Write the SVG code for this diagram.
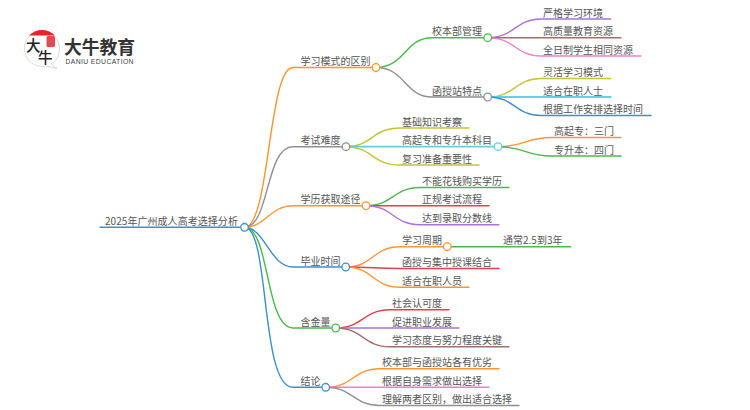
<svg xmlns="http://www.w3.org/2000/svg" width="750" height="410" viewBox="0 0 750 410">
<style>
text{font-family:"Noto Sans CJK SC","Noto Sans",sans-serif;font-size:10px;fill:#555}
#connectors path{fill:none;stroke-width:1.4;stroke-linecap:round}
.n{fill:#fff;stroke-width:1.3}
.or{stroke:#ff9431}.gy{stroke:#909090}.bl{stroke:#3e8fcc}.gn{stroke:#4cb84c}.pu{stroke:#a974d6}.br{stroke:#a0706a}.pk{stroke:#ec7fca}.ol{stroke:#c6c23a}.cy{stroke:#5cd3e4}.rd{stroke:#e0414c}
</style>
<rect width="750" height="410" fill="#fff"/>
<g id="logo">
<path d="M42 30.500a18 18 0 0 1 17.500 18c0 8-4.500 13.500-8.500 15.500l6 4.500-10.500-2.500a18 18 0 1 1-4.500-35.500z" fill="#fff" stroke="#cfcfcf" stroke-width=".8"/>
<path d="M29 35.500a18 18 0 0 1 26 0z" fill="#e8232a"/>
<rect x="46.500" y="36" width="8.500" height="11" rx="1.500" fill="#e04a50"/>
<text x="26" y="51" style="font-size:14.500px;font-weight:500;fill:#222">大</text>
<text x="38" y="63" style="font-size:14.500px;font-weight:500;fill:#222">牛</text>
<text x="64" y="54" style="font-size:17.800px;font-weight:700;fill:#333">大牛教育</text>
<text x="65.500" y="63.500" style="font-size:6.800px;font-weight:500;fill:#444;font-family:'Liberation Sans',sans-serif" textLength="68">DANIU EDUCATION</text>
</g>
<g id="connectors">
<path class="bl" d="M100 227.300H244.500"/>
<path class="or" d="M244.500 227.300C270 227.300 268 67.500 293 67.500H376"/>
<path class="gy" d="M244.500 227.300C270 227.300 265 146.700 293 146.700H346"/>
<path class="or" d="M244.500 227.300C265 227.300 270 205.700 293 205.700H366"/>
<path class="bl" d="M244.500 227.300C265 227.300 270 267 293 267H345.700"/>
<path class="gn" d="M244.500 227.300C270 227.300 265 328 293 328H335.700"/>
<path class="bl" d="M244.500 227.300C270 227.300 260 387.300 293 387.300H325.700"/>
<path class="gn" d="M376 67.500C405 67.500 405 37.700 432 37.700H487.700"/>
<path class="gy" d="M376 67.500C405 67.500 405 97 432 97H487.700"/>
<path class="pu" d="M487.700 37.700C515 37.700 515 19 541 19H610.700"/>
<path class="br" d="M487.700 37.700H621"/>
<path class="pk" d="M487.700 37.700C515 37.700 515 56 541 56H641"/>
<path class="ol" d="M487.700 97C515 97 515 78.500 541 78.500H610.700"/>
<path class="cy" d="M487.700 97H610.700" style="stroke-width:1.800"/>
<path class="bl" d="M487.700 97C515 97 515 115.500 541 115.500H651"/>
<path class="ol" d="M346 146.700C372 146.700 372 128 400 128H469"/>
<path class="cy" d="M346 146.700H498" style="stroke-width:1.800"/>
<path class="ol" d="M346 146.700C372 146.700 372 165 400 165H479"/>
<path class="or" d="M498 146.700C525 146.700 525 137.500 552 137.500H621"/>
<path class="gn" d="M498 146.700C525 146.700 525 156 552 156H621"/>
<path class="gn" d="M366 205.700C393 205.700 393 187.500 420 187.500H509"/>
<path class="rd" d="M366 205.700H489"/>
<path class="pu" d="M366 205.700C393 205.700 393 224.700 420 224.700H499"/>
<path class="or" d="M345.700 267C373 267 373 246.700 400 246.700H447.300"/>
<path class="rd" d="M345.700 267C373 267 373 268.500 400 268.500H499"/>
<path class="or" d="M345.700 267C373 267 373 287.300 400 287.300H469"/>
<path class="gn" d="M447.300 246.700H570.700"/>
<path class="rd" d="M335.700 328C363 328 363 309.700 390 309.700H449"/>
<path class="pu" d="M335.700 328H459"/>
<path class="br" d="M335.700 328C363 328 363 346.700 390 346.700H509"/>
<path class="or" d="M325.700 387.300C353 387.300 353 368.700 380 368.700H499"/>
<path class="pk" d="M325.700 387.300H489"/>
<path class="gy" d="M325.700 387.300C353 387.300 353 405.500 380 405.500H519"/>
</g>
<g id="root"><text x="105" y="224.800" style="letter-spacing:.05px">2025年广州成人高考选择分析</text><circle class="n bl" cx="244.500" cy="227.300" r="3.800"/></g>
<g id="n1"><text x="300.500" y="65.200">学习模式的区别</text><circle class="n or" cx="376" cy="67.500" r="3.800"/></g>
<g id="n2"><text x="300.500" y="144.400">考试难度</text><circle class="n gy" cx="346" cy="146.700" r="3.800"/></g>
<g id="n3"><text x="300.500" y="203.400">学历获取途径</text><circle class="n or" cx="366" cy="205.700" r="3.800"/></g>
<g id="n4"><text x="300.500" y="264.700">毕业时间</text><circle class="n bl" cx="345.700" cy="267" r="3.800"/></g>
<g id="n5"><text x="300.500" y="325.700">含金量</text><circle class="n gn" cx="335.700" cy="328" r="3.800"/></g>
<g id="n6"><text x="300.500" y="385">结论</text><circle class="n bl" cx="325.700" cy="387.300" r="3.800"/></g>
<g id="n11"><text x="432" y="35.400">校本部管理</text><circle class="n gn" cx="487.700" cy="37.700" r="3.800"/></g>
<g id="n12"><text x="432" y="94.700">函授站特点</text><circle class="n gy" cx="487.700" cy="97" r="3.800"/></g>
<g id="l1"><text x="543" y="16.700">严格学习环境</text></g>
<g id="l2"><text x="543" y="35.400">高质量教育资源</text></g>
<g id="l3"><text x="543" y="53.700">全日制学生相同资源</text></g>
<g id="l4"><text x="543" y="76.200">灵活学习模式</text></g>
<g id="l5"><text x="543" y="94.700">适合在职人士</text></g>
<g id="l6"><text x="543" y="113.200">根据工作安排选择时间</text></g>
<g id="l7"><text x="402" y="125.700">基础知识考察</text></g>
<g id="n22"><text x="402" y="144.400">高起专和专升本科目</text><circle class="n cy" cx="498" cy="146.700" r="3.800"/></g>
<g id="l8"><text x="402" y="162.700">复习准备重要性</text></g>
<g id="l9"><text x="554" y="135.200">高起专：三门</text></g>
<g id="l10"><text x="554" y="153.700">专升本：四门</text></g>
<g id="l11"><text x="422" y="185.200">不能花钱购买学历</text></g>
<g id="l12"><text x="422" y="203.400">正规考试流程</text></g>
<g id="l13"><text x="422" y="222.400">达到录取分数线</text></g>
<g id="n41"><text x="402" y="244.400">学习周期</text><circle class="n or" cx="447.300" cy="246.700" r="3.800"/></g>
<g id="l14"><text x="503" y="244.400">通常2.5到3年</text></g>
<g id="l15"><text x="402" y="266.200">函授与集中授课结合</text></g>
<g id="l16"><text x="402" y="285">适合在职人员</text></g>
<g id="l17"><text x="392" y="307.400">社会认可度</text></g>
<g id="l18"><text x="392" y="325.700">促进职业发展</text></g>
<g id="l19"><text x="392" y="344.400">学习态度与努力程度关键</text></g>
<g id="l20"><text x="382" y="366.400">校本部与函授站各有优劣</text></g>
<g id="l21"><text x="382" y="385">根据自身需求做出选择</text></g>
<g id="l22"><text x="382" y="403.200">理解两者区别，做出适合选择</text></g>
</svg>
